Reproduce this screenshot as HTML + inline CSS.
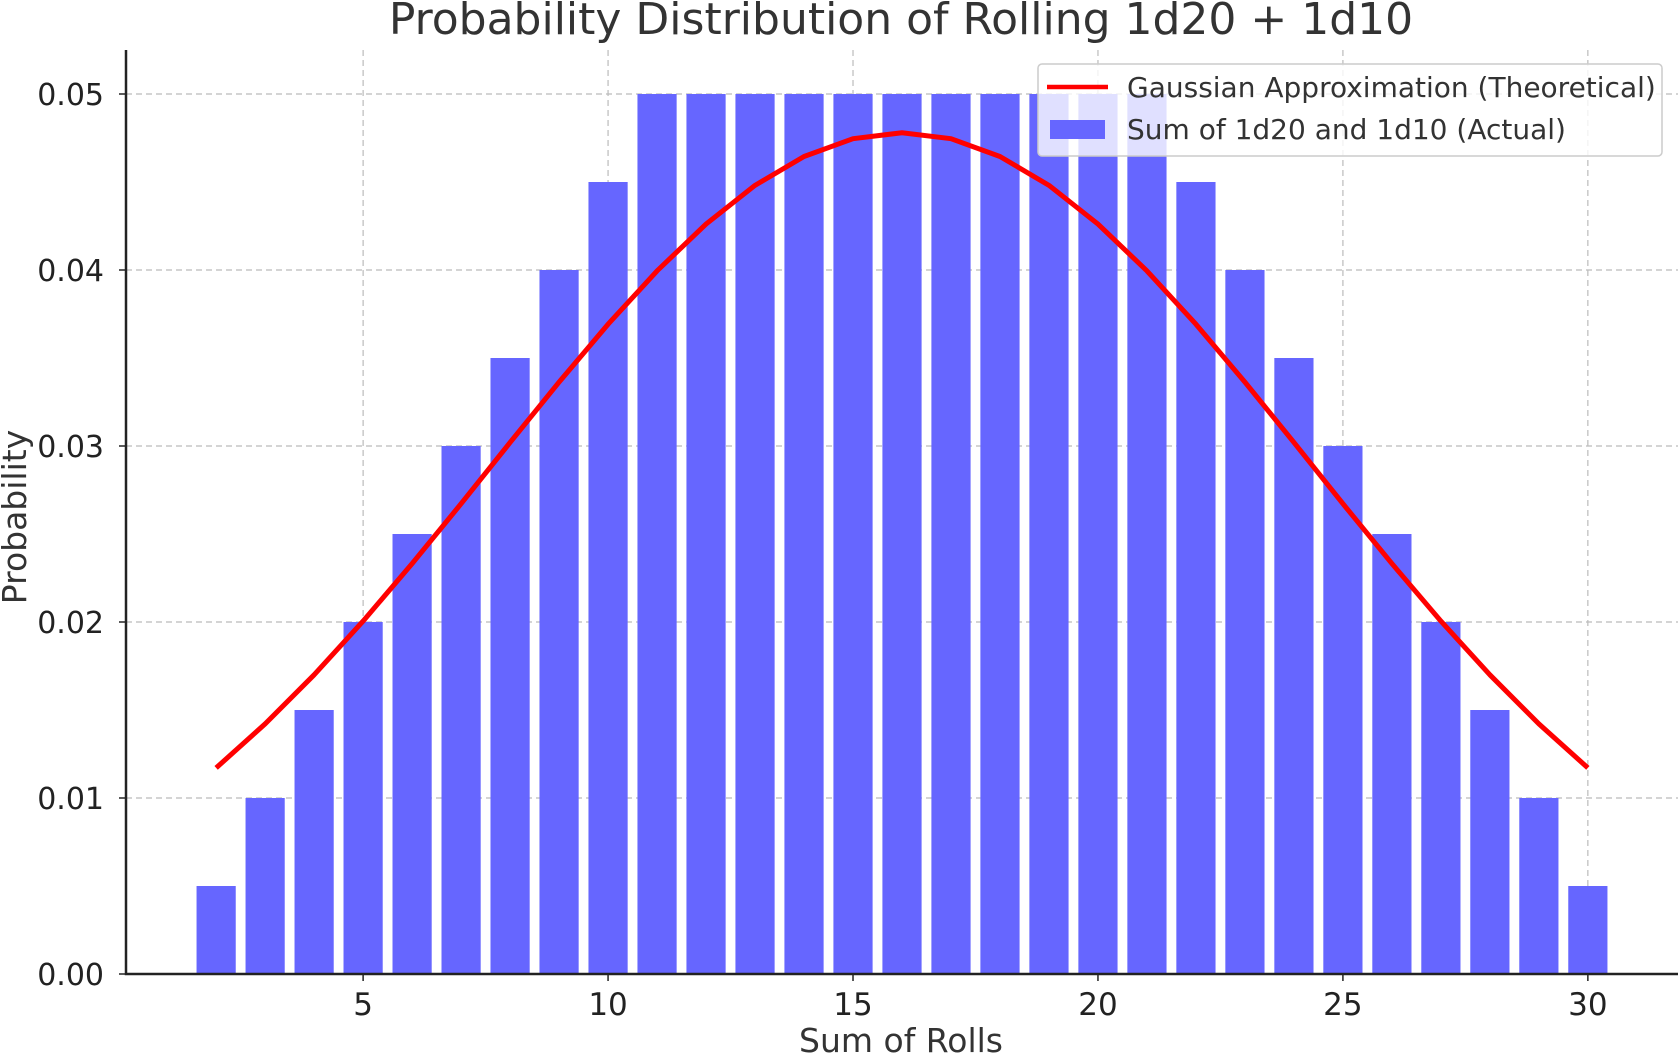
<!DOCTYPE html>
<html><head><meta charset="utf-8"><style>
body{margin:0;background:#fff;}
svg{display:block;font-family:"DejaVu Sans","Liberation Sans",sans-serif;}
</style></head><body>
<svg id="chart" width="1678" height="1054" xmlns="http://www.w3.org/2000/svg">
<text x="901" y="34" font-size="44" text-anchor="middle" fill="#333">Probability Distribution of Rolling 1d20 + 1d10</text>
<g id="grid"></g><g id="bars"></g><g id="line"></g><g id="axes"></g>
<text x="901" y="1052" font-size="33" text-anchor="middle" fill="#333">Sum of Rolls</text>
<text transform="translate(26,517) rotate(-90)" font-size="33" text-anchor="middle" fill="#333">Probability</text>
<g>
<rect x="1038" y="64" width="624" height="92" rx="4" fill="rgba(255,255,255,0.8)" stroke="#ccc" stroke-width="1.5"/>
<line x1="1047" y1="87" x2="1108" y2="87" stroke="#f00" stroke-width="4.5"/>
<text x="1127" y="97" font-size="28" fill="#333">Gaussian Approximation (Theoretical)</text>
<rect x="1050" y="120" width="55" height="19" fill="#6666ff"/>
<text x="1127" y="139" font-size="28" fill="#333">Sum of 1d20 and 1d10 (Actual)</text>
</g>
</svg>
<script>
const sums=[2,3,4,5,6,7,8,9,10,11,12,13,14,15,16,17,18,19,20,21,22,23,24,25,26,27,28,29,30];
const probs=[0.005,0.01,0.015,0.02,0.025,0.03,0.035,0.04,0.045,0.05,0.05,0.05,0.05,0.05,0.05,0.05,0.05,0.05,0.05,0.05,0.045,0.04,0.035,0.03,0.025,0.02,0.015,0.01,0.005];
const gauss=[0.01171,0.01421,0.01700,0.02005,0.02332,0.02672,0.03020,0.03363,0.03692,0.03995,0.04261,0.04481,0.04645,0.04746,0.0478,0.04746,0.04645,0.04481,0.04261,0.03995,0.03692,0.03363,0.03020,0.02672,0.02332,0.02005,0.01700,0.01421,0.01171];
const xTicks=[5,10,15,20,25,30];
const yTicks=[0,0.01,0.02,0.03,0.04,0.05];
const yTickLabels=["0.00","0.01","0.02","0.03","0.04","0.05"];
const L=126,R=1678,T=50,B=974,xmin=0.16,xmax=31.84,ymax=0.0525;
const X=v=>L+(v-xmin)/(xmax-xmin)*(R-L);
const Y=v=>B-v/ymax*(B-T);
const NS="http://www.w3.org/2000/svg";
function mk(tag,attrs,parent,txt){const e=document.createElementNS(NS,tag);for(const k in attrs)e.setAttribute(k,attrs[k]);if(txt!==undefined)e.textContent=txt;document.getElementById(parent).appendChild(e);return e;}
xTicks.forEach(t=>{const e=mk('line',{x1:X(t),x2:X(t),y1:T,y2:B,stroke:'#bbb','stroke-dasharray':'6,4','stroke-width':1.2},'grid');

});
yTicks.forEach(t=>{const e=mk('line',{x1:L,x2:R,y1:Y(t),y2:Y(t),stroke:'#bbb','stroke-dasharray':'6,4','stroke-width':1.2},'grid');

});
sums.forEach((s,i)=>{const e=mk('rect',{x:X(s-0.4),width:X(s+0.4)-X(s-0.4),y:Y(probs[i]),height:B-Y(probs[i]),fill:'#6666ff'},'bars');

});
const pl=mk('polyline',{points:sums.map((s,i)=>X(s)+','+Y(gauss[i])).join(' '),fill:'none',stroke:'#f00','stroke-width':5,'stroke-linejoin':'round'},'line');


const ax=mk('path',{d:`M${L},${T} V${B} H${R}`,fill:'none',stroke:'#222','stroke-width':2.5},'axes');


xTicks.forEach(t=>{mk('line',{x1:X(t),x2:X(t),y1:B,y2:B+7,stroke:'#222','stroke-width':1.5},'axes');
const e=mk('text',{x:X(t),y:B+41,'font-size':31,'text-anchor':'middle',fill:'#222'},'axes',String(t));

});
yTicks.forEach((t,i)=>{mk('line',{x1:L-7,x2:L,y1:Y(t),y2:Y(t),stroke:'#222','stroke-width':1.5},'axes');
const e=mk('text',{x:L-22,y:Y(t)+11,'font-size':30,'text-anchor':'end',fill:'#222'},'axes',yTickLabels[i]);

});
</script>
</body></html>
